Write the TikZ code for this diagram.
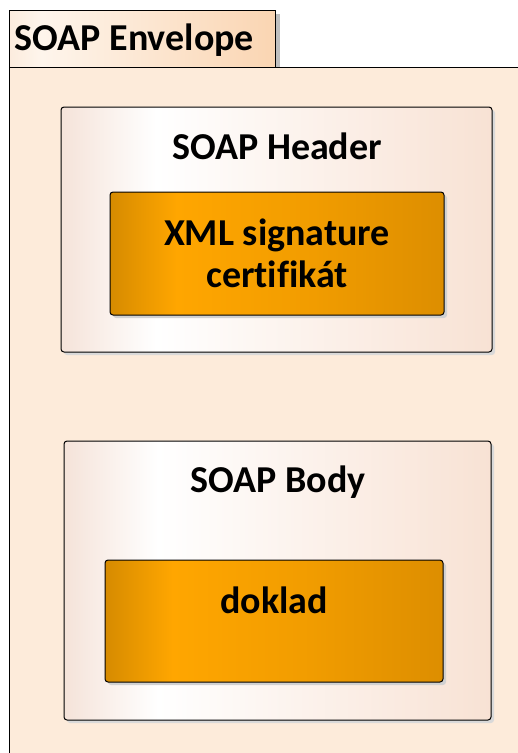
\documentclass[tikz,border=0pt]{standalone}
\usepackage{fontspec}
\setmainfont[Ligatures=NoCommon]{Carlito}
\usetikzlibrary{shadows}
\definecolor{envfill}{RGB}{253,235,218}
\definecolor{tableft}{RGB}{252,236,222}
\definecolor{tablight}{RGB}{254,245,236}
\definecolor{tabright}{RGB}{250,213,178}
\definecolor{partedge}{RGB}{245,227,217}
\definecolor{partright}{RGB}{248,226,212}
\definecolor{orngdark}{RGB}{214,139,0}
\definecolor{orngpeak}{RGB}{255,166,0}
\definecolor{orngright}{RGB}{221,142,0}
\pgfdeclarehorizontalshading{tabshade}{100bp}{color(0bp)=(tableft); color(25bp)=(tableft); color(31bp)=(tablight); color(75bp)=(tabright); color(100bp)=(tabright)}
\pgfdeclarehorizontalshading{partshade}{100bp}{color(0bp)=(partedge); color(25bp)=(partedge); color(36bp)=(white); color(75bp)=(partright); color(100bp)=(partright)}
\pgfdeclarehorizontalshading{itemshade}{100bp}{color(0bp)=(orngdark); color(25bp)=(orngdark); color(35bp)=(orngpeak); color(55bp)=(orngpeak!60!orngright); color(75bp)=(orngright); color(100bp)=(orngright)}
\tikzset{
  label text/.style={font=\fontsize{38}{42}\selectfont\bfseries, text=black},
  part/.style={draw=black, line width=1pt, rounded corners=3pt, shading=partshade,
    drop shadow={shadow xshift=3pt, shadow yshift=-3pt, fill=black!15, opacity=1}},
  item/.style={draw=black, line width=1pt, rounded corners=3pt, shading=itemshade,
    drop shadow={shadow xshift=3pt, shadow yshift=-3pt, fill=black!18, opacity=1},
    align=center, label text}
}
\begin{document}
\begin{tikzpicture}[x=1pt, y=-1pt]
        \useasboundingbox (0,0) rectangle (518,753);
        \fill[white] (0,0) rectangle (518,753);
        % envelope
        \node[draw=black, line width=1pt, fill=envfill, minimum width=530pt, minimum height=700pt,
          anchor=north west, inner sep=0pt] (envelope) at (9,67) {};
        \fill[black!25] (275,14) rectangle (280,67);
        \node[draw=black, line width=1pt, shading=tabshade, minimum width=266pt, minimum height=57pt,
          anchor=north west, inner sep=0pt] (tab) at (9,10) {};
        \node[label text, anchor=west] (tabtext) at (11,40) {SOAP Envelope};
        % header
        \node[part, minimum width=431pt, minimum height=245pt] (header) at (276.5,229.5) {};
        \node[label text] (headertext) at (277,146) {SOAP Header};
        \node[item, minimum width=334pt, minimum height=123pt] (signature) at (277,253.5)
          {XML signature\\certifik\'at};
        % body
        \node[part, minimum width=427pt, minimum height=279pt] (body) at (277.5,580.5) {};
        \node[label text] (bodytext) at (278,482) {SOAP Body};
        \node[item, minimum width=338pt, minimum height=122pt] (doklad) at (274,621) {};
        \node[label text] (dokladtext) at (274,600) {doklad};
\end{tikzpicture}
\end{document}
